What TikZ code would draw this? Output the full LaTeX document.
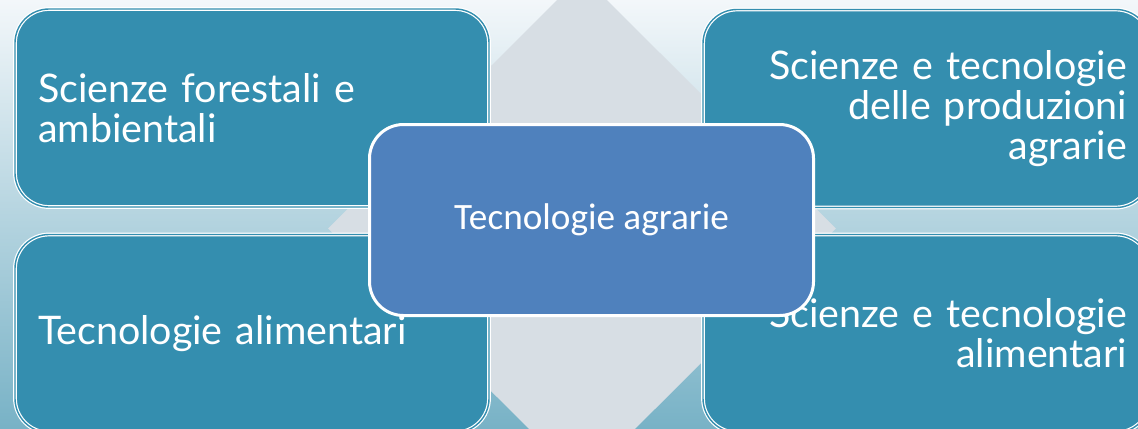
\documentclass[tikz,border=0pt]{standalone}
\usepackage{fontspec}
\setmainfont{Lato}
\newfontfamily\ctrfont{Carlito}
\usetikzlibrary{shapes.geometric}
\definecolor{fldteal}{RGB}{52,142,175}
\definecolor{ctrblue}{RGB}{79,129,189}
\definecolor{diagray}{RGB}{215,222,228}
\definecolor{bgtop}{RGB}{243,247,250}
\definecolor{bgmid}{RGB}{212,231,237}
\definecolor{bgbot}{RGB}{120,178,198}
\tikzset{
  fld/.style={rectangle, rounded corners=17pt, minimum height=99pt, inner xsep=11.5pt, inner ysep=0pt, fill=fldteal, draw=white, double=fldteal, line width=0.6pt, double distance=0.7pt, text=white, font=\fontsize{19.7}{20}\selectfont},
  fldl/.style={fld, text width=214pt, align=left},
  fldr/.style={fld, text width=200.5pt, align=right},
  ctr/.style={rectangle, rounded corners=17pt, minimum width=222pt, minimum height=95.5pt, fill=ctrblue, draw=white, line width=1.5pt, text=white, font=\ctrfont\fontsize{18.6}{21}\selectfont},
  dia/.style={diamond, minimum width=254pt, minimum height=253.5pt, inner sep=0pt, fill=diagray}
}
\begin{document}
\begin{tikzpicture}[x=0.5pt, y=-0.5pt]
	\useasboundingbox (0,0) rectangle (1138,428);
	\clip (0,0) rectangle (1138,428);
	\shade[top color=bgtop, middle color=bgmid, bottom color=bgbot] (0,0) rectangle (1138,428);
	% backdrop and the four areas
	\node[dia] (backdrop) at (582,228.5) {};
	\node[fldl] (forest) at (252,108) {Scienze forestali e\\ambientali};
	\node[fldr] (prod) at (926.5,108.5) {Scienze e tecnologie\\delle produzioni\\agrarie};
	\node[fldl] (food) at (252,333.5) {Tecnologie alimentari};
	\node[fldr] (foodsci) at (926.5,333.5) {Scienze e tecnologie\\alimentari};
	%
	\node[ctr] (core) at (591.5,220) {Tecnologie agrarie};
\end{tikzpicture}
\end{document}
